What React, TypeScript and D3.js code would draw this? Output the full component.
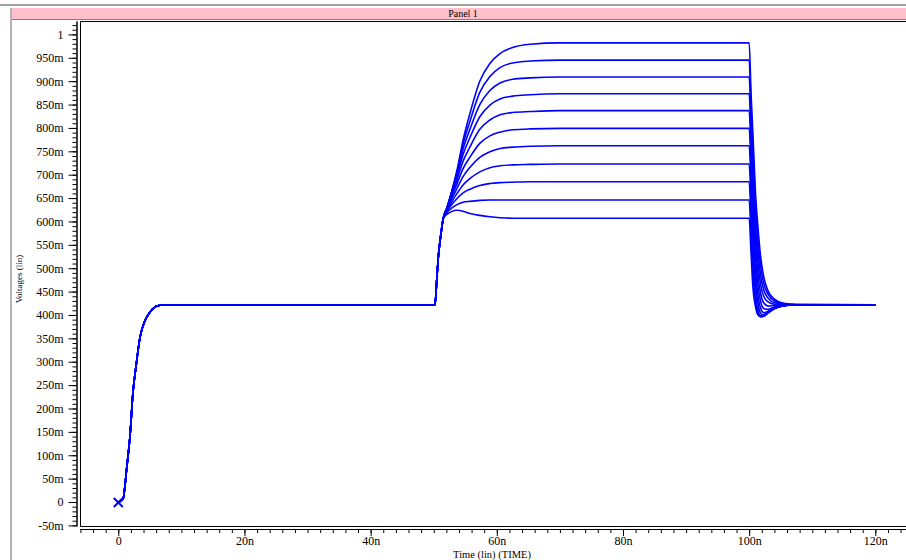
import React, { useEffect, useRef } from 'react';
import * as d3 from 'd3';

const WIDTH = 906;
const HEIGHT = 560;

// power-up ramp and the step at 50n, shared by every sweep (ns, V)
const startTimes = [0, 0.79, 1.06, 1.33, 1.59, 1.85, 2.33, 2.8, 3.44, 4.23, 5.03, 6.13, 7.4, 50.2, 50.48, 50.73, 51.16];
const startValues = [-0.001, 0.008, 0.035, 0.072, 0.104, 0.14, 0.235, 0.289, 0.352, 0.388, 0.406, 0.419, 0.422, 0.422, 0.475, 0.524, 0.575];

// rising part, one row per sweep (lowest level first)
const riseTimes = [51.52, 52.1, 52.8, 53.7, 54.65, 55.76, 57.3, 58.9, 60.5, 62.5, 65.3, 70, 100.0];
const riseValues = [
  [0.607, 0.615, 0.621, 0.624, 0.622, 0.617, 0.613, 0.61, 0.608, 0.607, 0.607, 0.607, 0.607],
  [0.607, 0.619, 0.628, 0.636, 0.641, 0.643, 0.645, 0.646, 0.646, 0.646, 0.646, 0.646, 0.646],
  [0.607, 0.622, 0.635, 0.649, 0.661, 0.669, 0.677, 0.681, 0.683, 0.684, 0.685, 0.685, 0.685],
  [0.607, 0.624, 0.641, 0.66, 0.678, 0.692, 0.706, 0.715, 0.719, 0.721, 0.722, 0.723, 0.723],
  [0.607, 0.626, 0.647, 0.671, 0.696, 0.716, 0.737, 0.749, 0.756, 0.759, 0.761, 0.762, 0.762],
  [0.607, 0.627, 0.652, 0.681, 0.713, 0.738, 0.767, 0.783, 0.791, 0.796, 0.798, 0.799, 0.799],
  [0.607, 0.628, 0.655, 0.69, 0.729, 0.76, 0.797, 0.817, 0.828, 0.833, 0.835, 0.837, 0.837],
  [0.607, 0.629, 0.658, 0.698, 0.743, 0.78, 0.824, 0.849, 0.862, 0.868, 0.871, 0.873, 0.873],
  [0.607, 0.629, 0.66, 0.703, 0.755, 0.798, 0.85, 0.88, 0.896, 0.904, 0.907, 0.909, 0.909],
  [0.607, 0.63, 0.661, 0.707, 0.765, 0.815, 0.876, 0.91, 0.929, 0.939, 0.943, 0.945, 0.945],
  [0.607, 0.63, 0.662, 0.71, 0.774, 0.832, 0.9, 0.938, 0.959, 0.972, 0.979, 0.982, 0.982],
];

// falling part after 100n
const fallTimes = [100.3, 100.6, 101.0, 101.4, 101.8, 102.3, 103.0, 104.0, 105.5, 107.5, 120];
const fallValues = [
  [0.532, 0.458, 0.418, 0.4, 0.397, 0.4, 0.407, 0.415, 0.42, 0.422, 0.422],
  [0.567, 0.488, 0.43, 0.402, 0.396, 0.398, 0.405, 0.414, 0.42, 0.422, 0.422],
  [0.603, 0.518, 0.447, 0.41, 0.398, 0.397, 0.404, 0.413, 0.42, 0.422, 0.422],
  [0.642, 0.553, 0.47, 0.424, 0.404, 0.399, 0.405, 0.414, 0.42, 0.422, 0.422],
  [0.682, 0.588, 0.497, 0.442, 0.415, 0.405, 0.408, 0.415, 0.42, 0.422, 0.422],
  [0.717, 0.623, 0.527, 0.462, 0.43, 0.414, 0.412, 0.417, 0.421, 0.422, 0.422],
  [0.752, 0.658, 0.557, 0.487, 0.447, 0.426, 0.419, 0.42, 0.422, 0.422, 0.422],
  [0.785, 0.692, 0.587, 0.512, 0.467, 0.44, 0.428, 0.423, 0.422, 0.422, 0.422],
  [0.815, 0.725, 0.612, 0.537, 0.487, 0.454, 0.436, 0.426, 0.423, 0.422, 0.422],
  [0.845, 0.755, 0.637, 0.562, 0.507, 0.468, 0.444, 0.43, 0.424, 0.422, 0.422],
  [0.873, 0.785, 0.662, 0.587, 0.527, 0.482, 0.451, 0.434, 0.425, 0.423, 0.422],
];

const yTickValues = [-0.05, 0, 0.05, 0.1, 0.15, 0.2, 0.25, 0.3, 0.35, 0.4, 0.45, 0.5, 0.55, 0.6, 0.65, 0.7, 0.75, 0.8, 0.85, 0.9, 0.95, 1];
const yTickLabels = ['-50m', '0', '50m', '100m', '150m', '200m', '250m', '300m', '350m', '400m', '450m', '500m', '550m', '600m', '650m', '700m', '750m', '800m', '850m', '900m', '950m', '1'];
const xTickValues = [0, 20, 40, 60, 80, 100, 120];
const xTickLabels = ['0', '20n', '40n', '60n', '80n', '100n', '120n'];

const FONT = '"Liberation Serif", "Times New Roman", serif';

export default function App() {
  const ref = useRef<SVGSVGElement | null>(null);

  useEffect(() => {
    const svg = d3.select(ref.current);
    svg.selectAll('*').remove();

    const left = 80;
    const top = 21;
    const bottom = 526;

    const x = d3.scaleLinear().domain([-6.07, 124.86]).range([left, WIDTH]);
    const y = d3.scaleLinear().domain([-0.0513, 1.0287]).range([bottom, top]);

    // window chrome
    svg.append('rect').attr('x', 0).attr('y', 4).attr('width', WIDTH).attr('height', 2).attr('fill', '#a0a0a0');
    svg.append('rect').attr('x', 12).attr('y', 8).attr('width', WIDTH - 12).attr('height', 11).attr('fill', '#ffc0cb');
    svg.append('rect').attr('x', 12).attr('y', 19).attr('width', WIDTH - 12).attr('height', 1).attr('fill', '#808080');
    svg.append('rect').attr('x', 10).attr('y', 8).attr('width', 2).attr('height', HEIGHT - 8).attr('fill', '#b4b4b4');
    svg.append('text')
      .attr('x', 463).attr('y', 16.5)
      .attr('text-anchor', 'middle')
      .style('font-family', FONT).style('font-size', '10px')
      .text('Panel 1');

    // plot frame
    svg.append('path')
      .attr('d', `M${WIDTH + 1},${top + 0.5}H${left + 0.5}V${bottom + 0.5}H${WIDTH + 1}`)
      .attr('fill', 'none').attr('stroke', '#000');

    // y axis: minor every 10m, major every 50m
    const yMinor = d3.range(-50, 1021, 10).map((d) => d / 1000);
    svg.append('g')
      .attr('transform', 'translate(76.5,0)')
      .call(d3.axisLeft(y).tickValues(yMinor).tickSize(4).tickSizeOuter(0).tickFormat(() => ''));
    const yAxis = svg.append('g')
      .attr('transform', 'translate(76.5,0)')
      .call(d3.axisLeft(y).tickValues(yTickValues).tickSize(8).tickSizeOuter(0).tickPadding(5)
        .tickFormat((d, i) => yTickLabels[i]));
    yAxis.selectAll('text').style('font-family', FONT).style('font-size', '12px').attr('fill', '#000');

    // x axis: minor every 2n, major every 20n
    const xMinor = d3.range(-6, 125, 2);
    svg.append('g')
      .attr('transform', 'translate(0,529)')
      .call(d3.axisBottom(x).tickValues(xMinor).tickSize(4).tickSizeOuter(0).tickFormat(() => ''));
    const xAxis = svg.append('g')
      .attr('transform', 'translate(0,529)')
      .call(d3.axisBottom(x).tickValues(xTickValues).tickSize(7).tickSizeOuter(0).tickPadding(0)
        .tickFormat((d, i) => xTickLabels[i]));
    xAxis.selectAll('text').style('font-family', FONT).style('font-size', '12px').attr('fill', '#000');
    svg.selectAll('.domain').attr('stroke', '#000');
    svg.selectAll('.tick line').attr('stroke', '#000');

    // axis titles
    svg.append('text')
      .attr('transform', 'translate(22,279) rotate(-90)')
      .attr('text-anchor', 'middle')
      .style('font-family', FONT).style('font-size', '9px')
      .text('Voltages (lin)');
    svg.append('text')
      .attr('x', 492).attr('y', 557.5)
      .attr('text-anchor', 'middle')
      .style('font-family', FONT).style('font-size', '10.5px')
      .text('Time (lin) (TIME)');

    // waveforms
    const line = d3.line<[number, number]>()
      .x((d) => x(d[0]))
      .y((d) => y(d[1]))
      .curve(d3.curveMonotoneX);

    riseValues.forEach((rise, k) => {
      const pts: [number, number][] = [
        ...startTimes.map((t, i) => [t, startValues[i]] as [number, number]),
        ...riseTimes.map((t, i) => [t, rise[i]] as [number, number]),
        ...fallTimes.map((t, i) => [t, fallValues[k][i]] as [number, number]),
      ];
      svg.append('path')
        .attr('d', line(pts))
        .attr('fill', 'none')
        .attr('stroke', '#0000ff')
        .attr('stroke-width', 1.6);
    });

    // cursor mark at the start point
    const mx = x(startTimes[0]);
    const my = y(startValues[0]);
    svg.append('path')
      .attr('d', `M${mx - 4.5},${my - 4.5}L${mx + 4.5},${my + 4.5}M${mx - 4.5},${my + 4.5}L${mx + 4.5},${my - 4.5}`)
      .attr('stroke', '#0000ff')
      .attr('stroke-width', 2);
  }, []);

  return (
    <svg
      ref={ref}
      width={WIDTH}
      height={HEIGHT}
      style={{ position: 'absolute', left: 0, top: 0, display: 'block', background: '#fff' }}
    />
  );
}
